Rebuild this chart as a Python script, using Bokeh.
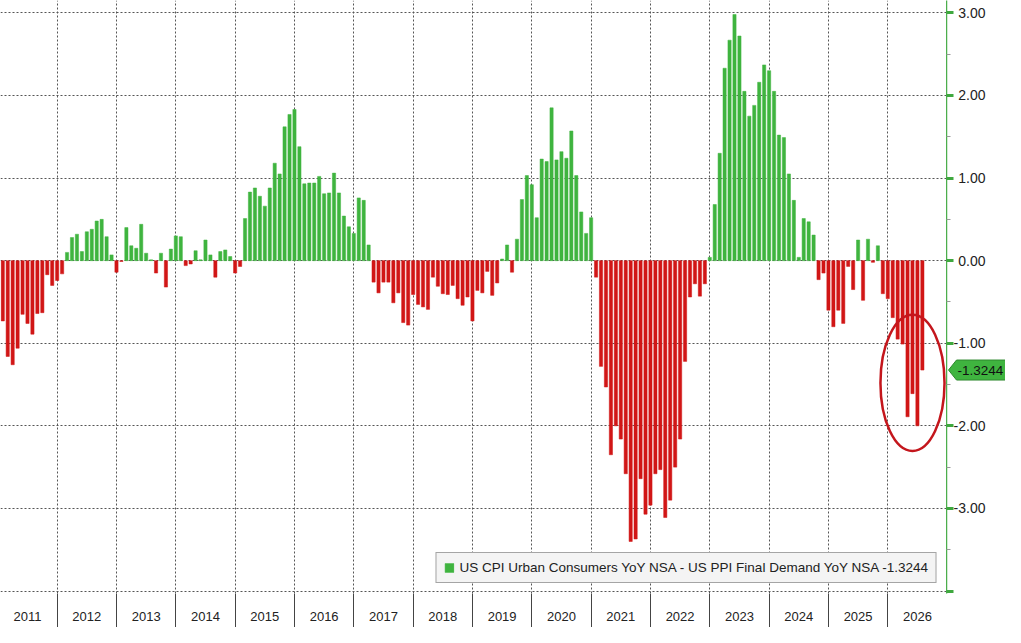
import numpy as np
from bokeh.plotting import figure
from bokeh.layouts import row
from bokeh.models import (ColumnDataSource, FixedTicker, NumeralTickFormatter, Range1d,
                          Legend, LegendItem)
from bokeh.core.properties import value
from bokeh.embed import file_html
from bokeh.resources import INLINE

# ---------------- data (CPI YoY minus PPI YoY, monthly) ----------------
START_YEAR = 2011
YEARS = list(range(2011, 2027))
YEAR_LABELS = [str(y) for y in YEARS]

v2011 = [-0.73, -1.16, -1.26, -1.06, -0.65, -0.76, -0.89, -0.64, -0.63, -0.17, -0.30, -0.24]
v2012 = [-0.16, 0.10, 0.28, 0.32, 0.11, 0.35, 0.38, 0.48, 0.50, 0.29, 0.07, -0.14]
v2013 = [-0.01, 0.40, 0.18, 0.15, 0.44, 0.09, 0.01, -0.15, 0.09, -0.32, 0.14, 0.30]
v2014 = [0.29, -0.06, -0.04, 0.12, 0.01, 0.25, 0.07, -0.20, 0.11, 0.13, 0.05, -0.15]
v2015 = [-0.07, 0.51, 0.83, 0.88, 0.78, 0.66, 0.88, 1.18, 1.05, 1.62, 1.77, 1.83]
v2016 = [1.38, 0.93, 0.94, 0.94, 1.02, 0.81, 0.82, 1.06, 0.82, 0.54, 0.41, 0.33]
v2017 = [0.76, 0.73, 0.19, -0.26, -0.39, -0.26, -0.26, -0.51, -0.39, -0.75, -0.78, -0.41]
v2018 = [-0.53, -0.56, -0.59, -0.20, -0.31, -0.40, -0.41, -0.30, -0.46, -0.54, -0.44, -0.73]
v2019 = [-0.36, -0.39, -0.13, -0.42, -0.27, 0.02, 0.19, -0.14, 0.26, 0.74, 1.03, 0.92]
v2020 = [0.52, 1.23, 1.20, 1.85, 1.22, 1.32, 1.24, 1.57, 1.03, 0.59, 0.33, 0.52]
v2021 = [-0.20, -1.28, -1.53, -2.35, -2.00, -2.16, -2.58, -3.40, -3.37, -2.64, -3.07, -2.96]
v2022 = [-2.58, -2.53, -3.11, -2.90, -2.50, -2.16, -1.22, -0.44, -0.28, -0.43, -0.28, 0.04]
v2023 = [0.68, 1.30, 2.33, 2.67, 2.98, 2.72, 2.05, 1.75, 1.88, 2.16, 2.37, 2.30]
v2024 = [2.05, 1.52, 1.49, 1.05, 0.73, 0.04, 0.51, 0.47, 0.31, -0.23, -0.15, -0.60]
v2025 = [-0.80, -0.60, -0.76, -0.07, -0.35, 0.25, -0.48, 0.26, -0.02, 0.18, -0.40, -0.46]
v2026 = [-0.69, -0.95, -1.01, -1.89, -1.61, -2.00, -1.3244]

Y_TICKS = [-4, -3, -2, -1, 0, 1, 2, 3]
Y_MINOR = [-3.5, -2.5, -1.5, -0.5, 0.5, 1.5, 2.5]
SERIES_NAME = "US CPI Urban Consumers YoY NSA - US PPI Final Demand YoY NSA"

# ---------------- build ----------------
values = np.array(v2011 + v2012 + v2013 + v2014 + v2015 + v2016 + v2017 + v2018 +
                  v2019 + v2020 + v2021 + v2022 + v2023 + v2024 + v2025 + v2026)
xpos = START_YEAR + (np.arange(len(values)) + 1) / 12.0
last = float(values[-1])

pos = values >= 0
src_g = ColumnDataSource(dict(x=xpos[pos], top=values[pos]))
src_r = ColumnDataSource(dict(x=xpos[~pos], top=values[~pos]))

GREEN = "#3fb43f"
RED = "#d11616"
AXIS_GREEN = "#4cae4c"
FONT = "Liberation Sans"

H = 627
BOTTOM = 34
MAIN_W = 946
SIDE_W = 59
x0, x1 = 2011.045, 2026.99
y0, y1 = -4.03, 3.15
yr = Range1d(y0, y1)

p = figure(width=MAIN_W, height=H, x_range=Range1d(x0, x1), y_range=yr,
           output_backend="svg", toolbar_location=None, y_axis_location=None,
           min_border_left=0, min_border_top=0, min_border_right=0, min_border_bottom=BOTTOM,
           background_fill_color="white", border_fill_color="white")
p.outline_line_color = None

bw = 0.65 / 12
rg = p.vbar(x="x", top="top", bottom=0, width=bw, source=src_g,
            fill_color=GREEN, line_color=GREEN, line_width=0.5)
rr = p.vbar(x="x", top="top", bottom=0, width=bw, source=src_r,
            fill_color=RED, line_color=RED, line_width=0.5)

# x axis: year labels centred in cells, cell separators as minor ticks
mids = [y + 0.5 for y in YEARS]
bounds = [y for y in YEARS] + [YEARS[-1] + 1]
xa = p.xaxis[0]
xa.ticker = FixedTicker(ticks=mids, minor_ticks=bounds)
xa.major_label_overrides = {m: lab for m, lab in zip(mids, YEAR_LABELS)}
xa.major_tick_out = 0
xa.major_tick_in = 0
xa.minor_tick_out = 34
xa.minor_tick_in = 0
xa.minor_tick_line_color = "#444444"
xa.axis_line_color = None
xa.major_label_standoff = -16
xa.major_label_text_font = FONT
xa.major_label_text_font_size = "13px"
xa.major_label_text_color = "#222222"

p.xgrid.ticker = FixedTicker(ticks=bounds)
p.xgrid.grid_line_color = "#555555"
p.xgrid.grid_line_dash = "2 2"

p.ygrid.ticker = FixedTicker(ticks=Y_TICKS)
p.ygrid.grid_line_color = "#555555"
p.ygrid.grid_line_dash = "2 2"

# highlight ellipse around the latest readings
cx = float(np.mean(xpos[-5:]))
p.ellipse(x=[cx], y=[-1.48], width=[1.08], height=[1.65], fill_color=None,
          line_color="#c4161c", line_width=2.5)

# legend
legend = Legend(items=[LegendItem(label=f"{SERIES_NAME} {last:.4f}", renderers=[rg])],
                location="bottom_right", margin=10, padding=7, spacing=0,
                glyph_width=11, glyph_height=11, label_standoff=5,
                label_text_font=FONT, label_text_font_size="13.5px", label_text_color="#222222",
                border_line_color="#555555", border_line_width=1,
                background_fill_color="#f4f4f4", background_fill_alpha=1.0)
p.add_layout(legend)

# ---------------- side strip: value axis + last-value tag ----------------
s = figure(width=SIDE_W, height=H, x_range=Range1d(0, SIDE_W), y_range=yr,
           output_backend="svg", toolbar_location=None, x_axis_location=None,
           y_axis_location="left",
           min_border_left=0, min_border_top=0, min_border_right=0, min_border_bottom=BOTTOM,
           background_fill_color="white", border_fill_color="white")
s.outline_line_color = None
s.xgrid.visible = False
s.ygrid.visible = False

ya = s.yaxis[0]
ya.ticker = FixedTicker(ticks=Y_TICKS, minor_ticks=Y_MINOR)
ya.formatter = NumeralTickFormatter(format="0.00")
ya.major_label_overrides = {-4: ""}
ya.axis_line_color = AXIS_GREEN
ya.axis_line_width = 1.5
ya.major_tick_line_color = "#3fa83f"
ya.major_tick_line_width = 3
ya.major_tick_out = 0
ya.major_tick_in = 7
ya.minor_tick_line_color = "#999999"
ya.minor_tick_out = 0
ya.minor_tick_in = 4
ya.major_label_standoff = -39
ya.major_label_text_font = FONT
ya.major_label_text_font_size = "14px"
ya.major_label_text_color = "#222222"

# tag: pentagon pointing at the axis, at the last value
hpx = 10.0
dy = hpx * (y1 - y0) / (H - BOTTOM)
tag = ColumnDataSource(dict(
    xs=[[2, 10, SIDE_W, SIDE_W, 10]],
    ys=[[last, last + dy, last + dy, last - dy, last - dy]],
))
s.patches(xs="xs", ys="ys", source=tag, fill_color=GREEN, line_color="#2f8a2f", line_width=1)
s.text(x=[11], y=[last], text=[f"{last:.4f}"], text_font=value(FONT), text_font_size="13.5px",
       text_color="#111111", text_baseline="middle", text_align="left")

layout = row(p, s, spacing=0)
open("out.html", "w").write(file_html(layout, INLINE))
